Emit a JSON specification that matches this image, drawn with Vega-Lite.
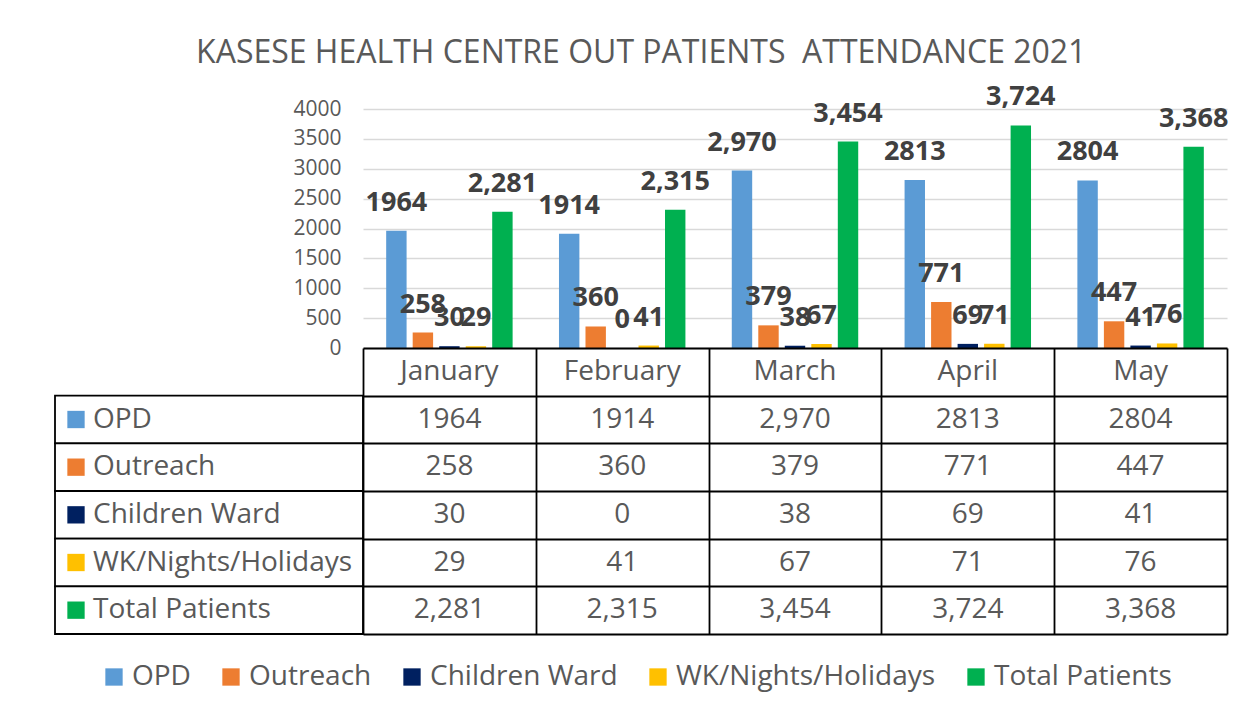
{
  "$schema": "https://vega.github.io/schema/vega-lite/v6.json",
  "background": "white",
  "padding": {"left": 54, "top": 37, "right": 20, "bottom": 10},
  "title": {
    "text": "KASESE HEALTH CENTRE OUT PATIENTS\u00a0 ATTENDANCE 2021",
    "font": "Open Sans",
    "fontSize": 32,
    "fontWeight": "normal",
    "color": "#595959",
    "anchor": "middle",
    "offset": 13
  },
  "datasets": {
    "main": [
      {"month": "January", "series": "OPD", "value": 1964, "label": "1964"},
      {"month": "January", "series": "Outreach", "value": 258, "label": "258"},
      {"month": "January", "series": "Children Ward", "value": 30, "label": "30"},
      {"month": "January", "series": "WK/Nights/Holidays", "value": 29, "label": "29"},
      {"month": "January", "series": "Total Patients", "value": 2281, "label": "2,281"},
      {"month": "February", "series": "OPD", "value": 1914, "label": "1914"},
      {"month": "February", "series": "Outreach", "value": 360, "label": "360"},
      {"month": "February", "series": "Children Ward", "value": 0, "label": "0"},
      {"month": "February", "series": "WK/Nights/Holidays", "value": 41, "label": "41"},
      {"month": "February", "series": "Total Patients", "value": 2315, "label": "2,315"},
      {"month": "March", "series": "OPD", "value": 2970, "label": "2,970"},
      {"month": "March", "series": "Outreach", "value": 379, "label": "379"},
      {"month": "March", "series": "Children Ward", "value": 38, "label": "38"},
      {"month": "March", "series": "WK/Nights/Holidays", "value": 67, "label": "67"},
      {"month": "March", "series": "Total Patients", "value": 3454, "label": "3,454"},
      {"month": "April", "series": "OPD", "value": 2813, "label": "2813"},
      {"month": "April", "series": "Outreach", "value": 771, "label": "771"},
      {"month": "April", "series": "Children Ward", "value": 69, "label": "69"},
      {"month": "April", "series": "WK/Nights/Holidays", "value": 71, "label": "71"},
      {"month": "April", "series": "Total Patients", "value": 3724, "label": "3,724"},
      {"month": "May", "series": "OPD", "value": 2804, "label": "2804"},
      {"month": "May", "series": "Outreach", "value": 447, "label": "447"},
      {"month": "May", "series": "Children Ward", "value": 41, "label": "41"},
      {"month": "May", "series": "WK/Nights/Holidays", "value": 76, "label": "76"},
      {"month": "May", "series": "Total Patients", "value": 3368, "label": "3,368"}
    ],
    "months": [
      {"month": "January"},
      {"month": "February"},
      {"month": "March"},
      {"month": "April"},
      {"month": "May"}
    ],
    "series": [
      {"series": "OPD"},
      {"series": "Outreach"},
      {"series": "Children Ward"},
      {"series": "WK/Nights/Holidays"},
      {"series": "Total Patients"}
    ]
  },
  "columns": 2,
  "spacing": 0,
  "bounds": "flush",
  "concat": [
    {
      "width": 308,
      "height": 239,
      "data": {"values": []},
      "mark": "point",
      "encoding": {}
    },
    {
      "width": 864,
      "height": 239,
      "data": {"name": "main"},
      "encoding": {
        "x": {
          "field": "month",
          "type": "nominal",
          "sort": ["January", "February", "March", "April", "May"],
          "scale": {"paddingInner": 0.233, "paddingOuter": 0.1165},
          "axis": null
        },
        "xOffset": {
          "field": "series",
          "type": "nominal",
          "sort": ["OPD", "Outreach", "Children Ward", "WK/Nights/Holidays", "Total Patients"],
          "scale": {"paddingInner": 0.23, "paddingOuter": 0.115}
        },
        "y": {
          "field": "value",
          "type": "quantitative",
          "scale": {"domain": [0, 4000], "nice": false},
          "axis": {
            "values": [0, 500, 1000, 1500, 2000, 2500, 3000, 3500, 4000],
            "format": "d",
            "title": null,
            "domain": false,
            "ticks": false,
            "grid": true,
            "gridColor": "#D9D9D9",
            "gridWidth": 1.3,
            "labelPadding": 22,
            "labelFont": "Open Sans",
            "labelFontSize": 21,
            "labelColor": "#595959"
          }
        }
      },
      "layer": [
        {
          "mark": {"type": "bar"},
          "encoding": {
            "color": {
              "field": "series",
              "type": "nominal",
              "scale": {
                "domain": ["OPD", "Outreach", "Children Ward", "WK/Nights/Holidays", "Total Patients"],
                "range": ["#5B9BD5", "#ED7D31", "#002060", "#FFC000", "#00B050"]
              }
            }
          }
        },
        {
          "mark": {
            "type": "text",
            "baseline": "alphabetic",
            "dy": -20,
            "font": "Open Sans",
            "fontSize": 27,
            "fontWeight": "bold",
            "color": "#404040"
          },
          "encoding": {"text": {"field": "label"}}
        }
      ]
    },
    {
      "width": 308,
      "height": 286,
      "data": {"name": "series"},
      "encoding": {
        "y": {
          "field": "series",
          "type": "nominal",
          "scale": {
            "domain": ["_hdr", "OPD", "Outreach", "Children Ward", "WK/Nights/Holidays", "Total Patients"],
            "paddingInner": 0,
            "paddingOuter": 0
          },
          "axis": null
        }
      },
      "layer": [
        {
          "mark": {"type": "rect", "fill": "white", "stroke": "black", "strokeWidth": 1.8}
        },
        {
          "mark": {"type": "point", "shape": "square", "filled": true, "size": 300, "opacity": 1, "xOffset": -133},
          "encoding": {
            "color": {
              "field": "series",
              "type": "nominal",
              "scale": {
                "domain": ["OPD", "Outreach", "Children Ward", "WK/Nights/Holidays", "Total Patients"],
                "range": ["#5B9BD5", "#ED7D31", "#002060", "#FFC000", "#00B050"]
              }
            }
          }
        },
        {
          "mark": {
            "type": "text",
            "align": "left",
            "baseline": "middle",
            "dx": -116,
            "font": "Open Sans",
            "fontSize": 28,
            "color": "#595959"
          },
          "encoding": {"text": {"field": "series"}}
        }
      ]
    },
    {
      "width": 864,
      "height": 286,
      "encoding": {
        "x": {
          "field": "month",
          "type": "nominal",
          "sort": ["January", "February", "March", "April", "May"],
          "scale": {"paddingInner": 0, "paddingOuter": 0},
          "axis": {
            "title": null,
            "labels": false,
            "ticks": false,
            "domain": false,
            "grid": true,
            "tickBand": "extent",
            "gridColor": "black",
            "gridWidth": 1.8,
            "gridOpacity": 1
          }
        },
        "y": {
          "field": "series",
          "type": "nominal",
          "scale": {
            "domain": ["_hdr", "OPD", "Outreach", "Children Ward", "WK/Nights/Holidays", "Total Patients"],
            "paddingInner": 0,
            "paddingOuter": 0
          },
          "axis": {
            "title": null,
            "labels": false,
            "ticks": false,
            "domain": false,
            "grid": true,
            "tickBand": "extent",
            "gridColor": "black",
            "gridWidth": 1.8,
            "gridOpacity": 1
          }
        }
      },
      "layer": [
        {
          "data": {"name": "main"},
          "mark": {
            "type": "text",
            "baseline": "middle",
            "font": "Open Sans",
            "fontSize": 28,
            "color": "#595959"
          },
          "encoding": {"text": {"field": "label"}}
        },
        {
          "data": {"name": "months"},
          "mark": {
            "type": "text",
            "baseline": "middle",
            "font": "Open Sans",
            "fontSize": 28,
            "color": "#595959"
          },
          "encoding": {
            "y": {"datum": "_hdr"},
            "text": {"field": "month"}
          }
        }
      ]
    }
  ],
  "config": {
    "view": {"stroke": null},
    "legend": {
      "orient": "none",
      "direction": "horizontal",
      "legendX": 45,
      "legendY": 554,
      "title": null,
      "padding": 0,
      "symbolType": "square",
      "symbolSize": 300,
      "symbolStrokeWidth": 0,
      "symbolOpacity": 1,
      "labelFont": "Open Sans",
      "labelFontSize": 28,
      "labelColor": "#595959",
      "labelOffset": 4,
      "columnPadding": 26,
      "labelLimit": 400
    }
  }
}
